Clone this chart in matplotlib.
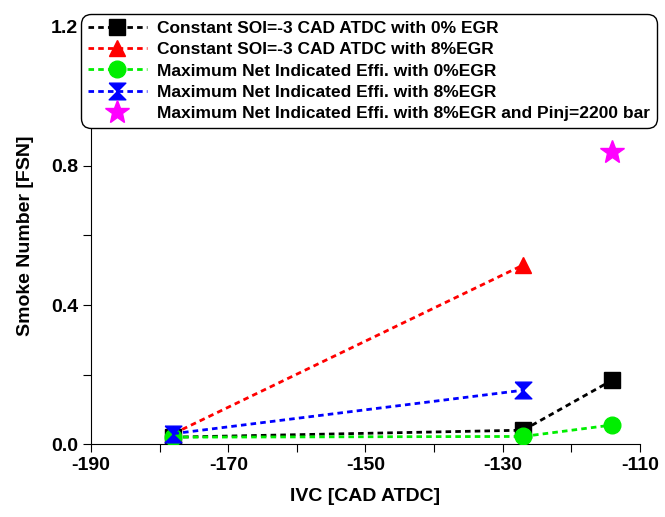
import matplotlib.pyplot as plt

plt.rcParams['font.family'] = ['Liberation Sans', 'DejaVu Sans']
plt.rcParams['font.weight'] = 'bold'
plt.rcParams['axes.unicode_minus'] = False

# data
ivc_soi0 = [-178, -127, -114]
fsn_soi0 = [0.02, 0.04, 0.184]

ivc_soi8 = [-178, -127]
fsn_soi8 = [0.03, 0.515]

ivc_eff0 = [-178, -127, -114]
fsn_eff0 = [0.02, 0.022, 0.055]

ivc_eff8 = [-178, -127]
fsn_eff8 = [0.03, 0.155]

ivc_pinj = [-114]
fsn_pinj = [0.84]

labels = ['Constant SOI=-3 CAD ATDC with 0% EGR',
          'Constant SOI=-3 CAD ATDC with 8%EGR',
          'Maximum Net Indicated Effi. with 0%EGR',
          'Maximum Net Indicated Effi. with 8%EGR',
          'Maximum Net Indicated Effi. with 8%EGR and Pinj=2200 bar']

hourglass = [(-1, 1), (1, 1), (-1, -1), (1, -1), (-1, 1)]
ls = (0, (2, 1.5))

fig = plt.figure(figsize=(6.65, 5.17), dpi=100)
ax = fig.add_axes([0.137, 0.141, 0.825, 0.807])

ax.plot(ivc_soi0, fsn_soi0, color='black', ls=ls, lw=2, marker='s', ms=11,
        label=labels[0], zorder=3)
ax.plot(ivc_soi8, fsn_soi8, color='red', ls=ls, lw=2, marker='^', ms=12,
        label=labels[1], zorder=3)
ax.plot(ivc_eff0, fsn_eff0, color='#00ee00', ls=ls, lw=2, marker='o', ms=12,
        label=labels[2], zorder=4)
ax.plot(ivc_eff8, fsn_eff8, color='blue', ls=ls, lw=2, marker=hourglass, ms=12,
        label=labels[3], zorder=5)
ax.plot(ivc_pinj, fsn_pinj, color='magenta', ls='none', marker='*', ms=18,
        label=labels[4], zorder=5)

ax.set_xlim(-190, -110)
ax.set_ylim(0, 1.2)
ax.set_xticks([-190, -170, -150, -130, -110])
ax.set_xticks([-180, -160, -140, -120], minor=True)
ax.set_yticks([0.0, 0.4, 0.8, 1.2])
ax.set_yticks([0.2, 0.6, 1.0], minor=True)
ax.set_yticklabels(['0.0', '0.4', '0.8', '1.2'])
ax.tick_params(which='both', direction='out', labelsize=14, length=6, width=0.8)
ax.spines['top'].set_visible(False)
ax.spines['right'].set_visible(False)

ax.set_xlabel('IVC [CAD ATDC]', fontsize=14, fontweight='bold', labelpad=10)
ax.set_ylabel('Smoke Number [FSN]', fontsize=14, fontweight='bold', labelpad=12)

leg = fig.legend(loc='upper right', bbox_to_anchor=(0.988, 0.973), numpoints=1,
                 fontsize=12.5, frameon=True, fancybox=True, edgecolor='black',
                 handlelength=3.4, handletextpad=0.6, labelspacing=0.35,
                 borderpad=0.4, borderaxespad=0, framealpha=1)
leg.get_frame().set_linewidth(1)
leg.get_frame().set_boxstyle('round,pad=0.0,rounding_size=0.6')

fig.savefig('out.png', dpi=100)
